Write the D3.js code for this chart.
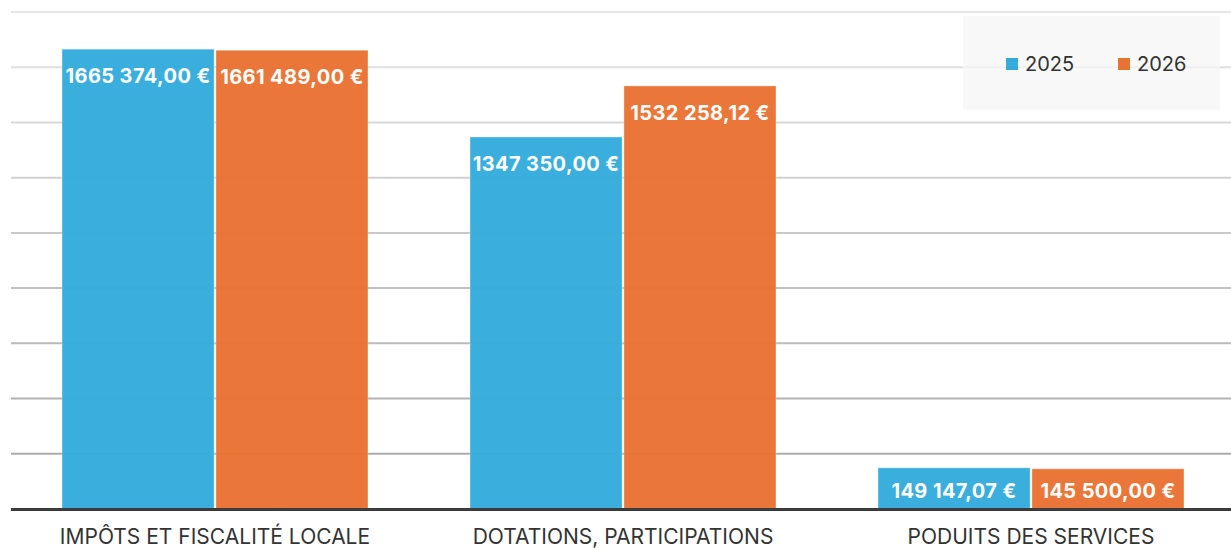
<!DOCTYPE html>
<html>
<head>
<meta charset="utf-8">
<script src="https://cdn.jsdelivr.net/npm/d3@7"></script>
<style>
  body { margin: 0; background: #fff; }
  svg { display: block; font-family: Inter, "Noto Sans", sans-serif; }
</style>
</head>
<body>
<div id="chart"></div>
<script>
// data
var categories = ["IMPÔTS ET FISCALITÉ LOCALE", "DOTATIONS, PARTICIPATIONS", "PODUITS DES SERVICES"];
var seriesNames = ["2025", "2026"];
var values2025 = [1665374.00, 1347350.00, 149147.07];
var values2026 = [1661489.00, 1532258.12, 145500.00];
var gridValues = [200000, 400000, 600000, 800000, 1000000, 1200000, 1400000, 1600000, 1800000];

var colors = ["#34abdb", "#e97333"];

var width = 1231, height = 549;
var margin = {top: 12, right: -4, bottom: 40, left: 11};

var svg = d3.select("#chart").append("svg")
    .attr("width", width)
    .attr("height", height);

var x0 = d3.scaleBand()
    .domain(categories)
    .range([margin.left, width - margin.right])
    .paddingInner(0.25)
    .paddingOuter(0.125);

var x1 = d3.scaleBand()
    .domain(seriesNames)
    .range([0, x0.bandwidth()])
    .paddingInner(0.012);

var y = d3.scaleLinear()
    .domain([0, 1800000])
    .range([height - margin.bottom, margin.top]);

// gridlines get darker towards the bottom
var gridColor = d3.scaleLinear()
    .domain([200000, 1800000])
    .range(["#ababab", "#e6e6e6"]);

svg.append("g").selectAll("line")
    .data(gridValues)
  .enter().append("line")
    .attr("x1", margin.left)
    .attr("x2", width)
    .attr("y1", function(d) { return y(d); })
    .attr("y2", function(d) { return y(d); })
    .style("stroke", function(d) { return gridColor(d); })
    .style("stroke-width", 2);

// legend (semi transparent, grid shows through)
var legend = svg.append("g");
legend.append("rect")
    .attr("x", 963).attr("y", 16)
    .attr("width", 257).attr("height", 94)
    .style("fill", "#f6f6f6")
    .style("opacity", 0.75);

var legItems = legend.selectAll(".leg")
    .data(seriesNames)
  .enter().append("g")
    .attr("class", "leg")
    .attr("transform", function(d, i) { return "translate(" + (1006 + i * 112) + ",58)"; });

legItems.append("rect")
    .attr("width", 12).attr("height", 12)
    .style("fill", function(d, i) { return colors[i]; });

legItems.append("text")
    .attr("x", 19).attr("y", 12.5)
    .style("font-size", "20px")
    .style("fill", "#333")
    .text(function(d) { return d; });

// bars
var rows = categories.map(function(c, i) {
  return {cat: c, vals: [
    {key: seriesNames[0], value: values2025[i], idx: 0},
    {key: seriesNames[1], value: values2026[i], idx: 1}
  ]};
});

var fmt = d3.formatLocale({decimal: ",", thousands: "\u202f", grouping: [3], currency: ["", " €"]});
var fnum = fmt.format(",.2f");
function label(v) {
  var s = fnum(v);
  // the source shows no group separator between the first digits of millions
  var parts = s.split("\u202f");
  if (parts.length > 2) s = parts[0] + parts[1] + " " + parts.slice(2).join(" ");
  else s = parts.join(" ");
  return s + " €";
}

var groups = svg.selectAll(".grp")
    .data(rows)
  .enter().append("g")
    .attr("class", "grp")
    .attr("transform", function(d) { return "translate(" + x0(d.cat) + ",0)"; });

var base = y(0);

groups.selectAll("rect")
    .data(function(d) { return d.vals; })
  .enter().append("rect")
    .attr("x", function(d) { return x1(d.key); })
    .attr("y", function(d) { return y(d.value); })
    .attr("width", x1.bandwidth())
    .attr("height", function(d) { return base - y(d.value); })
    .style("fill", function(d) { return colors[d.idx]; })
    .style("fill-opacity", 0.97)
    .style("stroke", "#ffffff")
    .style("stroke-opacity", 0.35)
    .style("stroke-width", 1);

groups.selectAll("text")
    .data(function(d) { return d.vals; })
  .enter().append("text")
    .attr("x", function(d) { return x1(d.key) + x1.bandwidth() / 2; })
    .attr("y", function(d) { return Math.min(y(d.value) + 34, base - 11); })
    .attr("text-anchor", "middle")
    .style("font-size", "20px")
    .style("letter-spacing", "0.4px")
    .style("font-weight", "bold")
    .style("fill", "#fff")
    .text(function(d) { return label(d.value); });

// baseline
svg.append("line")
    .attr("x1", margin.left).attr("x2", width)
    .attr("y1", base + 0.5).attr("y2", base + 0.5)
    .style("stroke", "#3b3b3b")
    .style("stroke-width", 3);

// category axis labels
svg.selectAll(".cat")
    .data(categories)
  .enter().append("text")
    .attr("class", "cat")
    .attr("x", function(d) { return x0(d) + x0.bandwidth() / 2; })
    .attr("y", 544)
    .attr("text-anchor", "middle")
    .style("font-size", "21px")
    .style("fill", "#333")
    .text(function(d) { return d; });
</script>
</body>
</html>
